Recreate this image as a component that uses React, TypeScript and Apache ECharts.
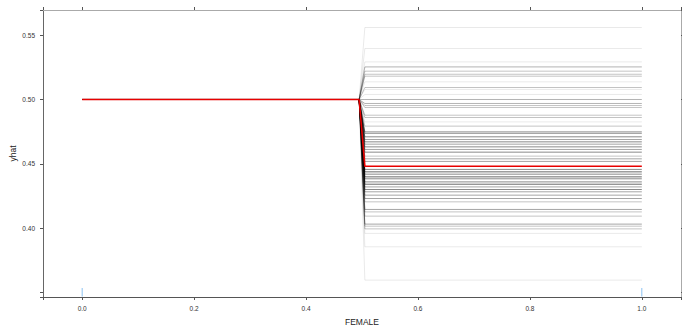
import React, { useEffect, useRef } from "react";
import * as echarts from "echarts";

// x grid at which the ICE curves were evaluated
const gridX = [0, 0.4949, 0.5051, 1];
// prediction of every curve while FEMALE < 0.5
const leftValue = 0.5;
// prediction of each ICE curve once FEMALE > 0.5
const rightValues = [
  0.5559, 0.5396, 0.5292, 0.5253, 0.522, 0.5196, 0.5181, 0.5137, 0.5093, 0.5078,
  0.5039, 0.5, 0.4969, 0.4953, 0.4938, 0.4878, 0.486, 0.4826, 0.4793, 0.4748,
  0.4736, 0.471, 0.4689, 0.4671, 0.4653, 0.4632, 0.4612, 0.4591, 0.456, 0.4539,
  0.4519, 0.4457, 0.4438, 0.442, 0.4399, 0.4384, 0.436, 0.4342, 0.4321, 0.4301,
  0.4283, 0.4257, 0.4231, 0.4205, 0.4146, 0.4127, 0.4094, 0.4032, 0.4016, 0.3995,
  0.396, 0.3856, 0.3597,
];
// number of observations sharing each curve
const curveCounts = [
  1, 1, 1, 4, 3, 3, 3, 1, 3, 1,
  1, 4, 4, 3, 3, 3, 3, 1, 3, 7,
  5, 7, 5, 7, 5, 7, 5, 7, 3, 5,
  5, 7, 10, 7, 10, 7, 7, 10, 5, 7,
  5, 5, 5, 3, 5, 3, 3, 5, 3, 3,
  1, 1, 1,
];
// partial dependence (mean) curve
const pdpValues = [0.5, 0.5, 0.4482, 0.4482];
// rug of observed FEMALE values
const rugX = [0, 1];
const xTickLabels = [0, 0.2, 0.4, 0.6, 0.8, 1.0];
const yTickLabels = [0.4, 0.45, 0.5, 0.55];

const X_MIN = -0.07;
const X_MAX = 1.07;
const Y_MIN = 0.3466;
const Y_MAX = 0.5695;
const FONT = "'Liberation Sans', Arial, sans-serif";

const isIn = (v: number, list: number[]) => list.some((t) => Math.abs(t - v) < 1e-6);

export default function App() {
  const ref = useRef<HTMLDivElement>(null);
  useEffect(() => {
    if (!ref.current) return;
    const chart = echarts.init(ref.current, null, { renderer: "svg" });
    const alpha = 0.085;
    const iceSeries = rightValues.map((v, i) => ({
      type: "line",
      silent: true,
      symbol: "none",
      data: gridX.map((x, j) => [x, j < 2 ? leftValue : v]),
      lineStyle: {
        color: "#000",
        width: 1,
        opacity: 1 - Math.pow(1 - alpha, curveCounts[i]),
      },
      z: 2,
    }));
    const commonTick = { show: true, length: 3, lineStyle: { color: "#555", width: 1 } };
    chart.setOption({
      animation: false,
      backgroundColor: "#fff",
      grid: {
        left: 43,
        right: 1,
        top: 10,
        bottom: 32,
        containLabel: false,
        outerBoundsMode: "none",
      },
      xAxis: [
        {
          type: "value",
          min: X_MIN,
          max: X_MAX,
          splitNumber: 5,
          name: "FEMALE",
          nameLocation: "middle",
          nameGap: 20,
          nameMoveOverlap: false,
          nameTextStyle: { fontFamily: FONT, fontSize: 8.5, color: "#222" },
          axisLine: { show: true, onZero: false, lineStyle: { color: "#555", width: 1 } },
          axisTick: commonTick,
          axisLabel: {
            margin: 8,
            fontFamily: FONT,
            fontSize: 6.5,
            color: "#333",
            formatter: (v: number) => (isIn(v, xTickLabels) ? v.toFixed(1) : ""),
          },
          splitLine: { show: false },
        },
        {
          type: "value",
          position: "top",
          min: X_MIN,
          max: X_MAX,
          splitNumber: 5,
          axisLine: { show: true, onZero: false, lineStyle: { color: "#aaa", width: 1 } },
          axisTick: commonTick,
          axisLabel: { show: false },
          splitLine: { show: false },
        },
      ],
      yAxis: [
        {
          type: "value",
          min: Y_MIN,
          max: Y_MAX,
          splitNumber: 5,
          name: "yhat",
          nameLocation: "middle",
          nameGap: 30,
          nameRotate: 90,
          nameMoveOverlap: false,
          nameTextStyle: {
            fontFamily: FONT,
            fontSize: 8.5,
            color: "#222",
            verticalAlign: "middle",
            align: "center",
          },
          axisLine: { show: true, onZero: false, lineStyle: { color: "#666", width: 1 } },
          axisTick: commonTick,
          axisLabel: {
            margin: 8,
            fontFamily: FONT,
            fontSize: 6.5,
            color: "#333",
            formatter: (v: number) => (isIn(v, yTickLabels) ? v.toFixed(2) : ""),
          },
          splitLine: { show: false },
        },
        {
          type: "value",
          position: "right",
          min: Y_MIN,
          max: Y_MAX,
          splitNumber: 5,
          axisLine: { show: true, onZero: false, lineStyle: { color: "#aaa", width: 1 } },
          axisTick: commonTick,
          axisLabel: { show: false },
          splitLine: { show: false },
        },
      ],
      series: [
        ...iceSeries,
        {
          type: "line",
          silent: true,
          symbol: "none",
          data: gridX.map((x, j) => [x, pdpValues[j]]),
          lineStyle: { color: "#e80000", width: 1.6, opacity: 1 },
          z: 10,
        },
        {
          type: "custom",
          silent: true,
          data: rugX.map((x) => [x]),
          renderItem: (_params: any, api: any) => {
            const p = api.coord([api.value(0), Y_MIN]);
            return {
              type: "line",
              shape: { x1: p[0], y1: p[1] - 0.5, x2: p[0], y2: p[1] - 9 },
              style: { stroke: "#8cc2f2", lineWidth: 1 },
            };
          },
          z: 11,
        },
      ],
    });
    return () => chart.dispose();
  }, []);
  return (
    <div
      ref={ref}
      style={{ position: "absolute", left: 0, top: 0, width: 682, height: 329, background: "#fff" }}
    />
  );
}
